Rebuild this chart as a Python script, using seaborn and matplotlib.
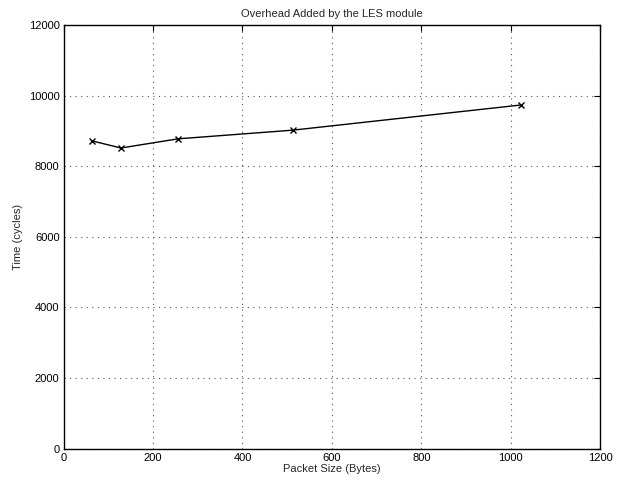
import matplotlib
matplotlib.use("Agg")
import matplotlib.pyplot as plt
import seaborn as sns
import pandas as pd

packet_size = [64, 128, 256, 512, 1024]
time_cycles = [8715, 8515, 8775, 9020, 9735]
x_ticks = [0, 200, 400, 600, 800, 1000, 1200]
y_ticks = [0, 2000, 4000, 6000, 8000, 10000, 12000]

sns.set_style("white")
plt.rcParams['font.family'] = ['Liberation Sans', 'DejaVu Sans']

df = pd.DataFrame({"Packet Size (Bytes)": packet_size, "Time (cycles)": time_cycles})

fig = plt.figure(figsize=(6.19, 4.82), dpi=100)
ax = fig.add_axes([0.1029, 0.0695, 0.8665, 0.8786])
sns.lineplot(data=df, x="Packet Size (Bytes)", y="Time (cycles)", ax=ax,
             color="black", marker="x", markersize=4, markeredgewidth=1.0,
             linewidth=1.0, markeredgecolor="black")
ax.set_xlim(0, 1200)
ax.set_ylim(0, 12000)
ax.set_xticks(x_ticks)
ax.set_yticks(y_ticks)
ax.grid(True, linestyle=(0, (1, 4)), color="#555555", linewidth=0.8)
for s in ax.spines.values():
    s.set_visible(True)
    s.set_color("black")
    s.set_linewidth(1.0)
ax.tick_params(direction="in", length=4, top=True, right=True, labelsize=8,
               colors="black", width=0.8, pad=3)
ax.set_xlabel("Packet Size (Bytes)", fontsize=8, labelpad=1)
ax.set_ylabel("Time (cycles)", fontsize=8, labelpad=4)
ax.set_title("Overhead Added by the LES module", fontsize=8, pad=6)
fig.savefig("out.png", dpi=100)
